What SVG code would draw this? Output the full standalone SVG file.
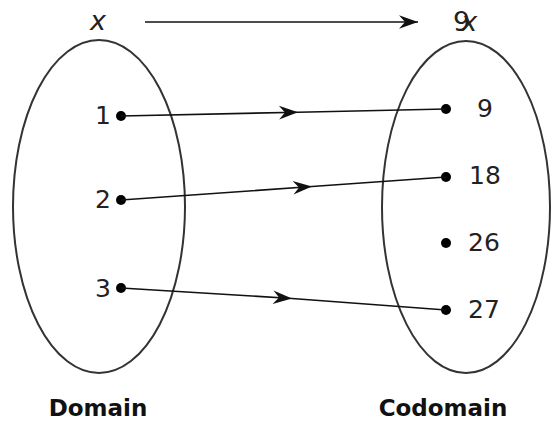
<svg xmlns="http://www.w3.org/2000/svg" width="551" height="421" viewBox="0 0 551 421">
<style>
.set{fill:none;stroke:#333;stroke-width:2}
.lbl{font-family:"DejaVu Sans",Verdana,sans-serif;font-size:25px;fill:#222}
.var{font-family:"DejaVu Sans",Verdana,sans-serif;font-size:27px;fill:#222}
.it{font-style:italic}
.title{font-family:"DejaVu Sans",Verdana,sans-serif;font-size:23px;font-weight:bold;fill:#111;text-anchor:middle}
.dot{fill:#000}
.conn{fill:none;stroke:#111;stroke-width:1.6}
</style>
<defs>
<marker id="ah" markerUnits="userSpaceOnUse" viewBox="-20 -8 22 16" refX="0" refY="0" markerWidth="22" markerHeight="16" orient="auto" overflow="visible">
<path d="M0,0 L-19,-6.8 L-13,0 L-19,6.8 Z" fill="#111"/>
</marker>
</defs>
<rect width="551" height="421" fill="#fff"/>
<g id="domain">
<ellipse class="set" cx="99" cy="206.5" rx="86" ry="166.5"/>
<text class="title" x="98" y="416">Domain</text>
</g>
<g id="codomain">
<ellipse class="set" cx="466" cy="207" rx="84" ry="166"/>
<text class="title" x="443" y="416">Codomain</text>
</g>
<g id="label-x"><text class="var it" x="90" y="30">x</text></g>
<g id="label-9x"><text class="var" x="453" y="31">9<tspan class="it" dx="-9">x</tspan></text></g>
<g id="d1"><circle class="dot" cx="121" cy="116" r="5"/><text class="lbl" x="111" y="124" text-anchor="end">1</text></g>
<g id="d2"><circle class="dot" cx="121" cy="200" r="5"/><text class="lbl" x="111" y="208" text-anchor="end">2</text></g>
<g id="d3"><circle class="dot" cx="121" cy="288" r="5"/><text class="lbl" x="111" y="297" text-anchor="end">3</text></g>
<g id="c9"><circle class="dot" cx="446" cy="109" r="5"/><text class="lbl" x="477" y="117">9</text></g>
<g id="c18"><circle class="dot" cx="446" cy="177" r="5"/><text class="lbl" x="469" y="184">18</text></g>
<g id="c26"><circle class="dot" cx="446" cy="243" r="5"/><text class="lbl" x="468" y="251">26</text></g>
<g id="c27"><circle class="dot" cx="446" cy="310" r="5"/><text class="lbl" x="468" y="318">27</text></g>
<g id="connectors">
<line class="conn" x1="145" y1="22" x2="418" y2="22" marker-end="url(#ah)"/>
<polyline class="conn" points="121,116 298,112.2 446,109" marker-mid="url(#ah)"/>
<polyline class="conn" points="121,200 312,186.5 446,177" marker-mid="url(#ah)"/>
<polyline class="conn" points="121,288 292,298.5 446,310" marker-mid="url(#ah)"/>
</g>
</svg>
